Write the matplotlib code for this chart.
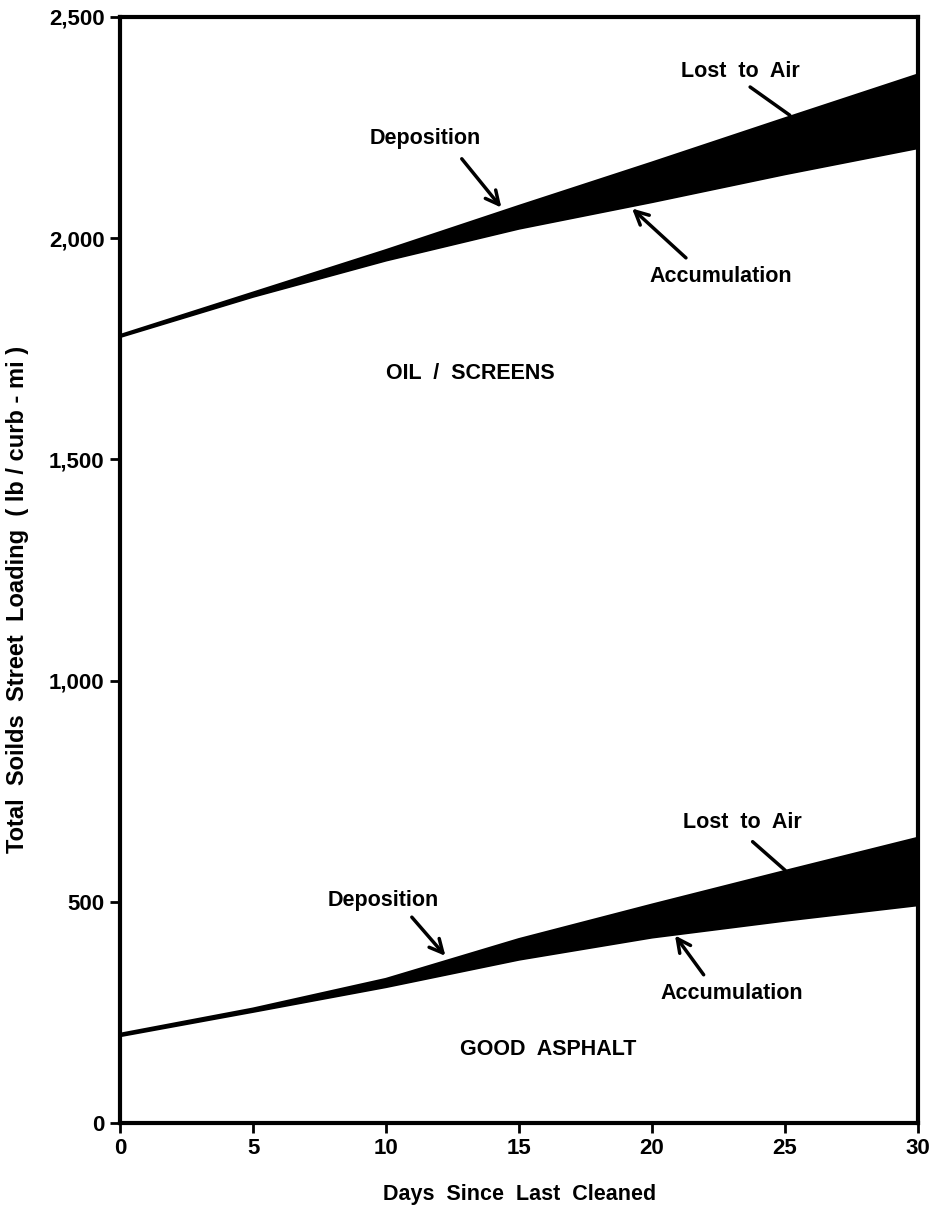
import numpy as np
import matplotlib.pyplot as plt

# days since last cleaned
days = [0, 5, 10, 15, 20, 25, 30]

# oil / screens: deposition (top) and accumulation (bottom), lb/curb-mi
oil_total = [1780, 1876, 1972, 2072, 2170, 2270, 2369]
oil_accum = [1777, 1868, 1950, 2022, 2082, 2145, 2204]

# good asphalt
asph_total = [201, 258, 325, 415, 493, 569, 644]
asph_accum = [197, 252, 308, 370, 420, 458, 493]

plt.rcParams['font.family'] = ['Liberation Sans', 'DejaVu Sans']

fig = plt.figure(figsize=(9.34, 12.09), dpi=100)
ax = fig.add_axes([0.1285, 0.0711, 0.8545, 0.915])

for top, bot in [(oil_total, oil_accum), (asph_total, asph_accum)]:
    ax.fill_between(days, bot, top, color='black', lw=0)
    ax.plot(days, top, color='black', lw=2)
    ax.plot(days, bot, color='black', lw=2)

ax.set_xlim(0, 30)
ax.set_ylim(0, 2500)
ax.set_xticks(range(0, 31, 5))
ax.set_yticks([0, 500, 1000, 1500, 2000, 2500])
ax.set_yticklabels(['0', '500', '1,000', '1,500', '2,000', '2,500'])
for s in ax.spines.values():
    s.set_linewidth(3)
ax.tick_params(direction='out', length=7, width=2, pad=4)
ax.tick_params(axis='x', labelsize=16)
ax.tick_params(axis='y', labelsize=16)
for lab in ax.get_xticklabels() + ax.get_yticklabels():
    lab.set_fontweight('bold')

ax.set_xlabel('Days  Since  Last  Cleaned', fontsize=15.5, fontweight='bold', va='center')
ax.xaxis.set_label_coords(0.5, -0.065)
ax.set_ylabel('Total  Soilds  Street  Loading  ( lb / curb - mi )', fontsize=17,
              fontweight='bold', va='center')
ax.yaxis.set_label_coords(-0.128, 0.473)

tkw = dict(fontsize=15.5, fontweight='bold', ha='center', va='center')
arrow = dict(arrowstyle='->', color='black', lw=2.5, mutation_scale=24)
plain = dict(arrowstyle='-', color='black', lw=2.5)

# oil / screens annotations
ax.text(23.3, 2376, 'Lost  to  Air', **tkw)
ax.annotate('', xy=(25.26, 2274), xytext=(23.6, 2345), arrowprops=plain)
ax.text(11.47, 2226, 'Deposition', **tkw)
ax.annotate('', xy=(14.4, 2064), xytext=(12.78, 2184), arrowprops=arrow)
ax.text(22.6, 1912, 'Accumulation', **tkw)
ax.annotate('', xy=(19.17, 2071), xytext=(21.35, 1951), arrowprops=arrow)
ax.text(13.16, 1693, 'OIL  /  SCREENS', **tkw)

# good asphalt annotations
ax.text(23.4, 680, 'Lost  to  Air', **tkw)
ax.annotate('', xy=(25.08, 567), xytext=(23.7, 640), arrowprops=plain)
ax.text(9.9, 504, 'Deposition', **tkw)
ax.annotate('', xy=(12.3, 373), xytext=(10.9, 470), arrowprops=arrow)
ax.text(23.0, 292, 'Accumulation', **tkw)
ax.annotate('', xy=(20.8, 429), xytext=(22.0, 330), arrowprops=arrow)
ax.text(16.1, 167, 'GOOD  ASPHALT', **tkw)

fig.savefig('out.png', dpi=100)
